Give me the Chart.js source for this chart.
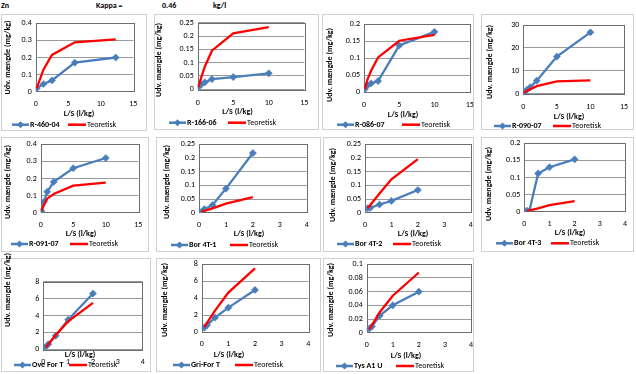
<!DOCTYPE html>
<html><head><meta charset="utf-8">
<script src="https://cdn.jsdelivr.net/npm/chart.js@4.4.1/dist/chart.umd.min.js"></script>
<style>
html,body{margin:0;padding:0;background:#fff;width:636px;height:374px;overflow:hidden;}
body{position:relative;font-family:Carlito,Lato,"Liberation Sans",sans-serif;}
.frame{position:absolute;border:1px solid #d0d0d0;box-sizing:border-box;}
canvas{position:absolute;left:0;top:0;}
.hdr{position:absolute;top:1px;font-weight:bold;font-size:8px;line-height:9px;color:#000;}
</style></head><body>
<div class="hdr" style="left:1px">Zn</div>
<div class="hdr" style="left:96px">Kappa =</div>
<div class="hdr" style="left:162px">0.46</div>
<div class="hdr" style="left:213px">kg/l</div>
<script>
// ---- data ----
const xTitle = 'L/S (l/kg)';
const yTitle = 'Udv. mængde (mg/kg)';
const theoLabel = 'Teoretisk';
const sampleNames = ['R-460-04','R-166-06','R-086-07','R-090-07','R-091-07','Bor 4T-1','Bor 4T-2','Bor 4T-3','Ove For T','Gri-For T','Tys A1 U'];

const ls_R46004 = [0.15, 1.2, 2.5, 6.0, 12.3];
const meas_R46004 = [0.02, 0.045, 0.066, 0.17, 0.2];
const theo_R46004 = [0.02, 0.13, 0.215, 0.289, 0.306];

const ls_R16606 = [0.1, 0.5, 1, 2, 5, 10];
const meas_R16606 = [0.008, 0.018, 0.026, 0.038, 0.046, 0.06];
const theo_R16606 = [0.008, 0.045, 0.085, 0.145, 0.21, 0.233];

const ls_R08607 = [0.1, 0.5, 1, 2, 5, 10];
const meas_R08607 = [0.009, 0.02, 0.026, 0.033, 0.137, 0.177];
const theo_R08607 = [0.009, 0.038, 0.063, 0.102, 0.151, 0.168];

const ls_R09007 = [0.1, 0.5, 1, 2, 5, 10];
const meas_R09007 = [0.3, 1.6, 2.8, 5.7, 16.2, 26.8];
const theo_R09007 = [0.3, 1.2, 1.9, 3.3, 5.4, 5.8];

const ls_R09107 = [0.1, 0.5, 1, 2, 5, 10];
const meas_R09107 = [0.01, 0.064, 0.122, 0.18, 0.26, 0.32];
const theo_R09107 = [0.01, 0.045, 0.082, 0.109, 0.158, 0.176];

const ls_Bor4T1 = [0.1, 0.2, 0.5, 1, 2];
const meas_Bor4T1 = [0.004, 0.013, 0.028, 0.088, 0.218];
const theo_Bor4T1 = [0.004, 0.007, 0.016, 0.033, 0.057];

const ls_Bor4T2 = [0.1, 0.2, 0.55, 1, 2];
const meas_Bor4T2 = [0.016, 0.018, 0.03, 0.043, 0.083];
const theo_Bor4T2 = [0.016, 0.028, 0.07, 0.122, 0.196];

const ls_Bor4T3 = [0.1, 0.2, 0.55, 1, 2];
const meas_Bor4T3 = [0.003, 0.002, 0.112, 0.13, 0.153];
const theo_Bor4T3 = [0.002, 0.004, 0.01, 0.019, 0.031];

const ls_OveForT = [0.1, 0.2, 0.5, 1, 2];
const meas_OveForT = [0.3, 0.6, 1.6, 3.5, 6.6];
const theo_OveForT = [0.25, 0.6, 1.7, 3.3, 5.5];

const ls_GriForT = [0.1, 0.2, 0.5, 1, 2];
const meas_GriForT = [0.55, 0.85, 1.72, 2.9, 4.98];
const theo_GriForT = [0.6, 1.1, 2.55, 4.67, 7.53];

const ls_TysA1U = [0.1, 0.2, 0.5, 1, 2];
const meas_TysA1U = [0.006, 0.009, 0.025, 0.04, 0.06];
const theo_TysA1U = [0.005, 0.011, 0.03, 0.054, 0.088];

const yMaxes = [0.4, 0.25, 0.2, 30, 0.4, 0.25, 0.25, 0.2, 8, 8, 0.1];
const ySteps = [0.1, 0.05, 0.05, 10, 0.1, 0.05, 0.05, 0.05, 2, 2, 0.02];
const xMaxes = [15, 15, 15, 15, 15, 4, 4, 4, 4, 4, 4];
const xSteps = [5, 5, 5, 5, 5, 1, 1, 1, 1, 1, 1];

const allLs = [ls_R46004, ls_R16606, ls_R08607, ls_R09007, ls_R09107, ls_Bor4T1, ls_Bor4T2, ls_Bor4T3, ls_OveForT, ls_GriForT, ls_TysA1U];
const allMeas = [meas_R46004, meas_R16606, meas_R08607, meas_R09007, meas_R09107, meas_Bor4T1, meas_Bor4T2, meas_Bor4T3, meas_OveForT, meas_GriForT, meas_TysA1U];
const allTheo = [theo_R46004, theo_R16606, theo_R08607, theo_R09007, theo_R09107, theo_Bor4T1, theo_Bor4T2, theo_Bor4T3, theo_OveForT, theo_GriForT, theo_TysA1U];

// ---- layout (positions only) ----
const W = 636, H = 374;
const frames = [
  [1,14,147,131],[154,14,319,130],[322,14,474,130],[481,14,634,130],
  [1,137,149,252],[156,137,321,252],[323,137,474,252],[481,137,634,252],
  [1,258,151,372],[156,258,321,372],[323,258,474,372]
];
const plots = [
  [35.7,23.3,133.3,91.7],[197.7,22.7,304.3,89.3],[364,24,469.7,92.3],[523.3,25,624,93.7],
  [40.7,144.3,138.3,212.7],[199,144.3,306.7,212.7],[365,144.3,470.7,212.7],[524.3,143.3,625,211.7],
  [43.3,281.7,142.7,349.3],[201.7,264.3,308.3,332.3],[366.7,264.3,471,332.7]
];
const xPads = [7,9,8,8,7.5,7,7,7.5,8,7.2,7];
const yTitlePos = [[7.5,57.5],[159,60],[330,65],[490,62],[7.5,182],[166.5,182],[333,185],[488.5,184],[7.5,290],[165,300],[330.7,300]];
const xTitlePos = [[79,114.3],[237.5,112],[403,115],[569,116.7],[81,234],[249,234],[413,234],[570,233.3],[80,355],[229,355],[406,356]];
const legendPos = [[12,68,124.7],[169,228,122.7],[337,402,124.7],[494,553,126],[11,70,244],[171,230,245],[337,393,244],[496,551,243.3],[14,69,365],[173,235,365],[336,396,366]];

const FONT = 'Carlito, Lato, "Liberation Sans", sans-serif';
const BLUE = '#4A7EBB', RED = '#FF0000';

frames.forEach(f => {
  const d = document.createElement('div');
  d.className = 'frame';
  d.style.left = f[0] + 'px'; d.style.top = f[1] + 'px';
  d.style.width = (f[2] - f[0]) + 'px'; d.style.height = (f[3] - f[1]) + 'px';
  document.body.appendChild(d);
});

const decor = {
  id: 'decor',
  beforeDatasetsDraw(chart) {
    const a = chart.chartArea, ctx = chart.ctx;
    ctx.save();
    ctx.strokeStyle = '#6e6e6e'; ctx.lineWidth = 1;
    ctx.strokeRect(Math.round(a.left) + 0.5, Math.round(a.top) + 0.5, Math.round(a.right - a.left), Math.round(a.bottom - a.top));
    ctx.restore();
  },
  afterDraw(chart, args, o) {
    const ctx = chart.ctx;
    ctx.save();
    ctx.fillStyle = '#000';
    ctx.font = 'bold 8px ' + FONT;
    ctx.textAlign = 'center'; ctx.textBaseline = 'middle';
    ctx.save();
    ctx.translate(o.yt[0], o.yt[1]); ctx.rotate(-Math.PI / 2);
    ctx.fillText(o.ytText, 0, 0);
    ctx.restore();
    ctx.fillText(o.xtText, o.xt[0], o.xt[1]);
    const ds = chart.data.datasets;
    const [b0, r0, ly] = o.lg;
    ctx.lineWidth = 2.5; ctx.lineCap = 'butt';
    ctx.strokeStyle = ds[0].borderColor;
    ctx.beginPath(); ctx.moveTo(b0, ly); ctx.lineTo(b0 + 17, ly); ctx.stroke();
    const cx = b0 + 8.5, r = 3.5;
    ctx.fillStyle = ds[0].borderColor;
    ctx.beginPath(); ctx.moveTo(cx, ly - r); ctx.lineTo(cx + r, ly); ctx.lineTo(cx, ly + r); ctx.lineTo(cx - r, ly); ctx.closePath(); ctx.fill();
    ctx.strokeStyle = ds[1].borderColor;
    ctx.beginPath(); ctx.moveTo(r0, ly); ctx.lineTo(r0 + 18, ly); ctx.stroke();
    ctx.fillStyle = '#000'; ctx.textAlign = 'left';
    ctx.font = 'bold 8px ' + FONT;
    ctx.fillText(ds[0].label, b0 + 18, ly);
    ctx.font = '8px ' + FONT;
    ctx.fillText(ds[1].label, r0 + 19, ly);
    ctx.restore();
  }
};

const fmt = v => String(parseFloat(Number(v).toFixed(6)));

const YW = 20, XH = 20;
for (let i = 0; i < 11; i++) {
  const c = document.createElement('canvas');
  c.width = W; c.height = H;
  document.body.appendChild(c);
  const [L, T, R, B] = plots[i];
  const ls = allLs[i];
  new Chart(c, {
    type: 'scatter',
    data: {
      datasets: [
        { label: sampleNames[i], data: ls.map((x, k) => ({ x, y: allMeas[i][k] })), showLine: true,
          borderColor: BLUE, backgroundColor: BLUE, borderWidth: 2.3, pointStyle: 'rectRot',
          pointRadius: 3.6, pointBackgroundColor: BLUE, pointBorderColor: BLUE, pointBorderWidth: 0.5, order: 1 },
        { label: theoLabel, data: ls.map((x, k) => ({ x, y: allTheo[i][k] })), showLine: true,
          borderColor: RED, backgroundColor: RED, borderWidth: 2.3, pointRadius: 0, order: 0 }
      ]
    },
    options: {
      responsive: false, animation: false, devicePixelRatio: 1,
      layout: { padding: { left: L - YW, top: T, right: W - R, bottom: H - B - XH } },
      plugins: {
        legend: { display: false }, tooltip: { enabled: false },
        decor: { yt: yTitlePos[i], xt: xTitlePos[i], lg: legendPos[i], ytText: yTitle, xtText: xTitle }
      },
      scales: {
        x: { type: 'linear', min: 0, max: xMaxes[i],
             ticks: { stepSize: xSteps[i], padding: xPads[i], color: '#000', font: { family: FONT, size: 8 }, maxRotation: 0, callback: fmt },
             grid: { display: false, drawTicks: false }, border: { display: false },
             afterFit(s) { s.height = XH; } },
        y: { type: 'linear', min: 0, max: yMaxes[i],
             ticks: { stepSize: ySteps[i], padding: 4, color: '#000', font: { family: FONT, size: 8 }, callback: fmt },
             grid: { color: '#9a9a9a', lineWidth: 1, drawTicks: false }, border: { display: false },
             afterFit(s) { s.width = YW; } }
      }
    },
    plugins: [decor]
  });
}
</script>
</body></html>
